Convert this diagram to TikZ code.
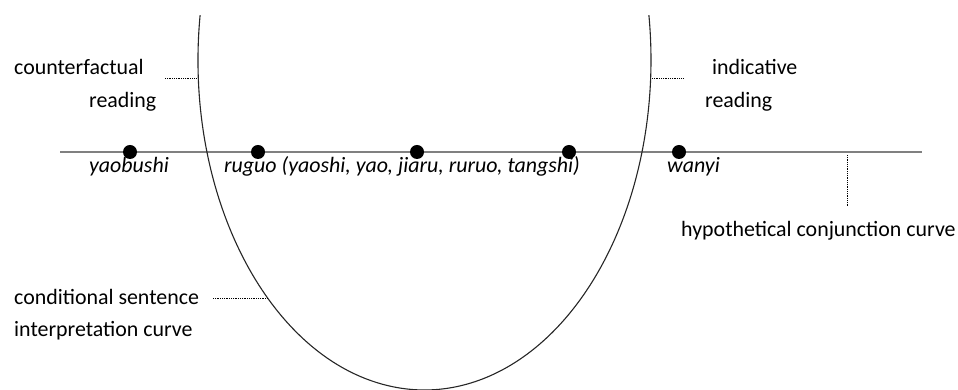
\documentclass[tikz,border=0pt]{standalone}
\usepackage{fontspec}
\setmainfont{Carlito}
\usetikzlibrary{calc}
\begin{document}
\begin{tikzpicture}[x=1pt,y=1pt,
  lbl/.style={anchor=base west,inner sep=0pt,font=\fontsize{21.9}{26}\selectfont},
  ilbl/.style={lbl,font=\fontsize{21.9}{26}\selectfont\itshape},
  dot/.style={circle,fill=black,inner sep=0pt,minimum size=14pt},
  leader/.style={black,densely dotted,line width=0.8pt},
  axis/.style={draw=black!50,line width=1.4pt}]
\useasboundingbox (0,0) rectangle (958,390);
% horizontal axis
\coordinate (L) at (60,238);
\coordinate (R) at (922,238);
\draw[axis] (L) -- (R);
% ellipse curve
\coordinate (ctr) at (424.5,330);
\draw[line width=1.1pt,black!85] ($(ctr)+(172.2:226.5 and 330)$) arc[start angle=172.2,end angle=367.8,x radius=226.5,y radius=330];
% dots
\node[dot] (d1) at (130,238) {};
\node[dot] (d2) at (258,238) {};
\node[dot] (d3) at (417,238) {};
\node[dot] (d4) at (569,238) {};
\node[dot] (d5) at (679,238) {};
% item labels
\node[ilbl] (yaobushi) at (89,217) {yaobushi};
\node[ilbl] (ruguo) at (224,217) {ruguo (yaoshi, yao, jiaru, ruruo, tangshi)};
\node[ilbl] (wanyi) at (667,217) {wanyi};
% readings
\node[lbl] (cf1) at (14,315) {counterfactual};
\node[lbl] (cf2) at (89,282) {reading};
\node[lbl] (ind1) at (712,315) {indicative};
\node[lbl] (ind2) at (705,282) {reading};
\node[lbl] (hyp) at (681,153) {hypothetical conjunction curve};
\node[lbl] (cond1) at (14,85) {conditional sentence};
\node[lbl] (cond2) at (14,53) {interpretation curve};
% leaders
\coordinate (a1) at (165,312);
\coordinate (a2) at (197,312);
\coordinate (b1) at (652,312);
\coordinate (b2) at (684,312);
\coordinate (c1) at (847,235);
\coordinate (c2) at (847,183);
\coordinate (e1) at (213,92);
\coordinate (e2) at (268,92);
\draw[leader] (a1) -- (a2);
\draw[leader] (b1) -- (b2);
\draw[leader] (c1) -- (c2);
\draw[leader] (e1) -- (e2);
\end{tikzpicture}
\end{document}
